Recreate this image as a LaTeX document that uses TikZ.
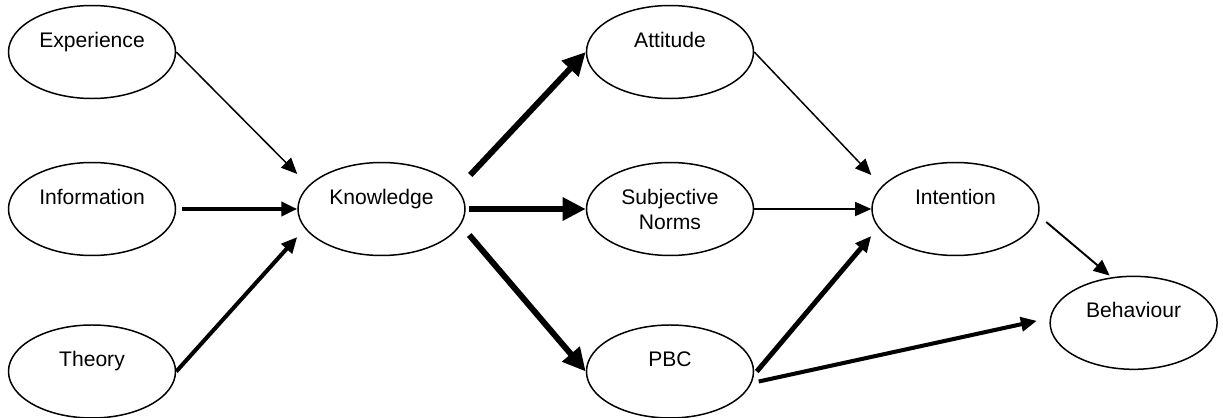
\documentclass[tikz,border=0pt]{standalone}
\usepackage{fontspec}
\setmainfont{Liberation Sans}
\usetikzlibrary{shapes.geometric, arrows.meta, positioning}

\begin{document}
\begin{tikzpicture}[
          construct/.style={ellipse, draw, line width=0.85pt, minimum width=3.34cm, minimum height=1.86cm, inner sep=0pt, align=center, font=\fontsize{12pt}{14.2pt}\selectfont},
          arrow/.style={-{Triangle[length=0.32cm,width=0.28cm]}, line width=0.85pt},
          strong/.style={arrow, line width=2.3pt},
          heavy/.style={-{Triangle[length=0.46cm,width=0.44cm]}, line width=3.4pt}
        ]
          \useasboundingbox (0,0) rectangle (24.46,8.34);

          % sources
          \node (information) [construct] at (1.84,4.16) {Information\\\mbox{}};
          \node (experience) [construct, above=1.25cm of information] {Experience\\\mbox{}};
          \node (theory) [construct, below=1.36cm of information] {Theory\\\mbox{}};

          \node (knowledge) [construct, right=2.42cm of information] {Knowledge\\\mbox{}};

          % beliefs
          \node (norms) [construct, right=2.40cm of knowledge] {Subjective\\Norms};
          \node (attitude) [construct, above=1.25cm of norms] {Attitude\\\mbox{}};
          \node (pbc) [construct, below=1.36cm of norms] {PBC\\\mbox{}};

          \node (intention) [construct, right=2.34cm of norms] {Intention\\\mbox{}};
          \node (behaviour) [construct, below right=0.94cm and 1.18cm of intention] {Behaviour\\\mbox{}};

          \draw [arrow] (experience.east) -- ([yshift=0.70cm]knowledge.west);
          \draw [strong] ([xshift=0.12cm]information.east) -- (knowledge.west);
          \draw [strong] (theory.east) -- ([yshift=-0.56cm]knowledge.west);

          \draw [heavy] ([xshift=0.09cm,yshift=0.68cm]knowledge.east) -- (attitude.west);
          \draw [heavy] ([xshift=0.07cm]knowledge.east) -- (norms.west);
          \draw [heavy] ([xshift=0.07cm,yshift=-0.52cm]knowledge.east) -- (pbc.west);

          \draw [arrow] (attitude.east) -- ([yshift=0.68cm]intention.west);
          \draw [arrow, line width=0.7pt] (norms.east) -- (intention.west);
          \draw [strong, line width=2.8pt] ([xshift=0.05cm]pbc.east) -- ([yshift=-0.54cm]intention.west);
          \draw [strong] ([xshift=0.09cm,yshift=-0.2cm]pbc.east) -- ([xshift=-0.25cm,yshift=0.04cm]behaviour.west);
          \draw [arrow, line width=1.1pt] ([xshift=0.13cm,yshift=-0.26cm]intention.east) -- ([xshift=-0.48cm]behaviour.north);
        \end{tikzpicture}
\end{document}
